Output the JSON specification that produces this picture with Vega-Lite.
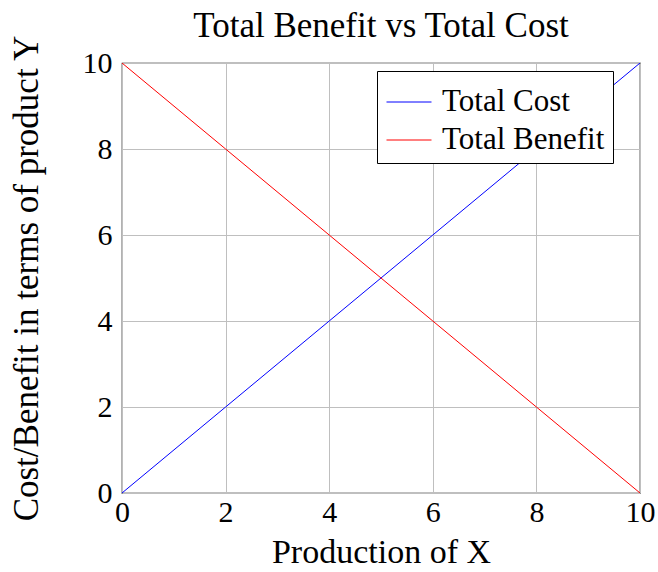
{
  "$schema": "https://vega.github.io/schema/vega-lite/v6.json",
  "width": 518,
  "height": 430,
  "autosize": {"type": "none"},
  "padding": {"left": 122, "top": 63, "right": 18, "bottom": 79},
  "background": "white",
  "title": {
    "text": "Total Benefit vs Total Cost",
    "font": "Liberation Serif",
    "fontSize": 35,
    "fontWeight": "normal",
    "color": "black",
    "anchor": "middle",
    "offset": -10
  },
  "config": {
    "view": {"stroke": "black", "strokeWidth": 1.2},
    "font": "Liberation Serif"
  },
  "data": {
    "values": [
      {"x": 0, "y": 0, "series": "Total Cost"},
      {"x": 2, "y": 2, "series": "Total Cost"},
      {"x": 4, "y": 4, "series": "Total Cost"},
      {"x": 6, "y": 6, "series": "Total Cost"},
      {"x": 8, "y": 8, "series": "Total Cost"},
      {"x": 10, "y": 10, "series": "Total Cost"},
      {"x": 0, "y": 10, "series": "Total Benefit"},
      {"x": 2, "y": 8, "series": "Total Benefit"},
      {"x": 4, "y": 6, "series": "Total Benefit"},
      {"x": 6, "y": 4, "series": "Total Benefit"},
      {"x": 8, "y": 2, "series": "Total Benefit"},
      {"x": 10, "y": 0, "series": "Total Benefit"}
    ]
  },
  "mark": {"type": "line", "strokeWidth": 1, "clip": true},
  "encoding": {
    "x": {
      "field": "x",
      "type": "quantitative",
      "scale": {"domain": [0, 10], "nice": false},
      "axis": {
        "title": "Production of X",
        "titleFont": "Liberation Serif",
        "titleFontSize": 34,
        "titleFontWeight": "normal",
        "titleColor": "black",
        "titlePadding": 8,
        "values": [0, 2, 4, 6, 8, 10],
        "labelFont": "Liberation Serif",
        "labelFontSize": 30,
        "labelColor": "black",
        "labelPadding": 4,
        "labelFlush": false,
        "ticks": false,
        "domain": false,
        "grid": true,
        "gridColor": "#bfbfbf",
        "gridWidth": 1
      }
    },
    "y": {
      "field": "y",
      "type": "quantitative",
      "scale": {"domain": [0, 10], "nice": false},
      "axis": {
        "title": "Cost/Benefit in terms of product Y",
        "titleFont": "Liberation Serif",
        "titleFontSize": 35,
        "titleFontWeight": "normal",
        "titleColor": "black",
        "titlePadding": 38,
        "titleLimit": 600,
        "values": [0, 2, 4, 6, 8, 10],
        "labelFont": "Liberation Serif",
        "labelFontSize": 30,
        "labelColor": "black",
        "labelPadding": 10,
        "labelFlush": false,
        "ticks": false,
        "domain": false,
        "grid": true,
        "gridColor": "#bfbfbf",
        "gridWidth": 1
      }
    },
    "color": {
      "field": "series",
      "type": "nominal",
      "scale": {"domain": ["Total Cost", "Total Benefit"], "range": ["#0000ff", "#ff0000"]},
      "legend": {
        "title": null,
        "orient": "none",
        "legendX": 255,
        "legendY": 8,
        "symbolType": "stroke",
        "symbolSize": 2025,
        "symbolStrokeWidth": 1,
        "symbolOffset": 1,
        "labelFont": "Liberation Serif",
        "labelFontSize": 31,
        "labelLimit": 400,
        "labelColor": "black",
        "strokeColor": "black",
        "fillColor": "white",
        "padding": 8,
        "rowPadding": -4,
        "labelOffset": 10
      }
    }
  }
}
